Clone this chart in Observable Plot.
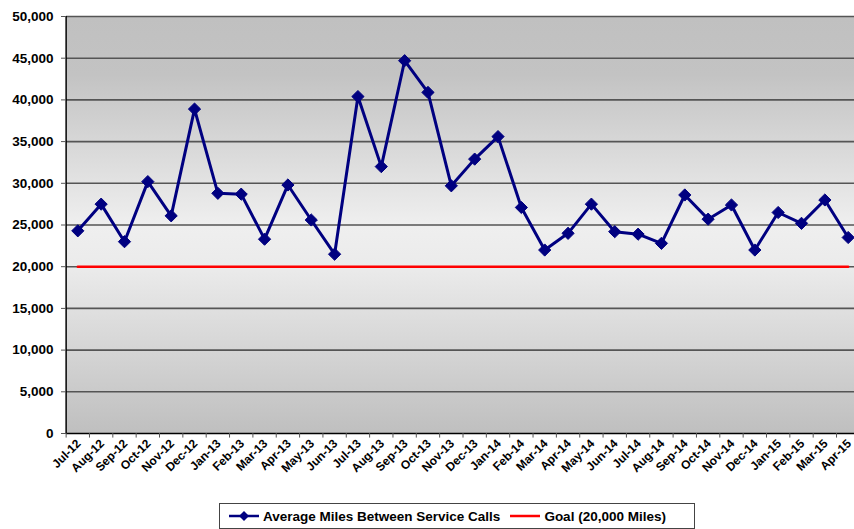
<!DOCTYPE html>
<html>
<head>
<meta charset="utf-8">
<script src="https://cdn.jsdelivr.net/npm/d3@7"></script>
<script src="https://cdn.jsdelivr.net/npm/@observablehq/plot@0.6"></script>
<style>
  html, body { margin: 0; padding: 0; background: #fff; overflow: hidden; }
  #chart { position: relative; width: 854px; height: 529px; font-family: "Liberation Sans", Arial, sans-serif; }
  #legend { position: absolute; left: 219px; top: 503px; width: 476px; height: 26px; border: 1px solid #444; box-sizing: border-box; background: #fff; font-weight: bold; font-size: 13.5px; color: #000; display: flex; align-items: center; }
  .item { display: flex; align-items: center; margin-left: 9px; }
  .item svg { margin-right: 4px; }
</style>
</head>
<body>
<div id="chart"><div id="legend"></div></div>
<script>
const months = ["Jul-12","Aug-12","Sep-12","Oct-12","Nov-12","Dec-12","Jan-13","Feb-13","Mar-13","Apr-13","May-13","Jun-13",
  "Jul-13","Aug-13","Sep-13","Oct-13","Nov-13","Dec-13","Jan-14","Feb-14","Mar-14","Apr-14","May-14","Jun-14",
  "Jul-14","Aug-14","Sep-14","Oct-14","Nov-14","Dec-14","Jan-15","Feb-15","Mar-15","Apr-15"];
const avgMiles = [24300,27500,23000,30200,26100,38900,28800,28700,23300,29800,25600,21500,
  40400,32000,44700,40900,29700,32900,35600,27100,22000,24000,27500,24200,
  23900,22800,28600,25700,27400,22000,26500,25200,28000,23500];
const goalMiles = 20000;
const yTicks = [0,5000,10000,15000,20000,25000,30000,35000,40000,45000,50000];
const seriesNames = ["Average Miles Between Service Calls", "Goal (20,000 Miles)"];

const series = months.map((m, i) => ({month: m, value: avgMiles[i]}));
const goal = months.map(m => ({month: m, value: goalMiles}));
const half = (847.7 - 77.3) / (months.length - 1) / 2;

const plot = Plot.plot({
  width: 854,
  height: 500,
  marginLeft: 66,
  marginRight: 0,
  marginTop: 16,
  marginBottom: 67,
  style: {fontFamily: "'Liberation Sans', Arial, sans-serif", background: "transparent", overflow: "visible"},
  x: {type: "point", domain: months, range: [77.3, 847.7], padding: 0, align: 0.5, round: false},
  y: {domain: [0, 50000]},
  marks: [
    Plot.frame({fill: "url(#bgGrad)", stroke: null}),
    Plot.ruleY(yTicks.filter(d => d > 0), {stroke: "#555", strokeWidth: 1.6}),
    Plot.ruleY([0], {stroke: "#000", strokeWidth: 1.5}),
    Plot.ruleX([months[0]], {dx: -half, stroke: "#000", strokeWidth: 1.5}),
    Plot.ruleX(months, {x: d => d, y1: 0, y2: -550, dx: -half, stroke: "#555", strokeWidth: 1}),
    Plot.axisY({ticks: yTicks, tickFormat: d3.format(","), tickSize: 5, tickPadding: 8, fontSize: 13.5, fontWeight: "bold", fill: "#000", stroke: "#555", label: null}),
    Plot.axisX({tickSize: 0, tickPadding: 8, tickRotate: -45, fontSize: 12, fontWeight: "bold", fill: "#000", dx: 1, label: null}),
    Plot.lineY(goal, {x: "month", y: "value", stroke: "#ff0000", strokeWidth: 2.5}),
    Plot.lineY(series, {x: "month", y: "value", stroke: "#000080", strokeWidth: 3}),
    Plot.dot(series, {x: "month", y: "value", symbol: "diamond2", r: 5.5, fill: "#000080", stroke: "#000080", strokeWidth: 1})
  ]
});

// gradient defs
const ns = "http://www.w3.org/2000/svg";
const defs = document.createElementNS(ns, "defs");
const grad = document.createElementNS(ns, "linearGradient");
grad.setAttribute("id", "bgGrad");
grad.setAttribute("x1", "0"); grad.setAttribute("y1", "0");
grad.setAttribute("x2", "0"); grad.setAttribute("y2", "1");
[[0, "#c0c0c0"], [0.14, "#c3c3c3"], [0.5, "#efefef"], [0.6, "#ebebeb"], [1, "#bfbfbf"]].forEach(([o, c]) => {
  const s = document.createElementNS(ns, "stop");
  s.setAttribute("offset", o); s.setAttribute("stop-color", c);
  grad.appendChild(s);
});
defs.appendChild(grad);
plot.insertBefore(defs, plot.firstChild);

const chart = document.getElementById("chart");
chart.insertBefore(plot, chart.firstChild);

// legend
const legend = document.getElementById("legend");
const colors = ["#000080", "#ff0000"];
seriesNames.forEach((name, i) => {
  const item = document.createElement("div");
  item.className = "item";
  item.style.marginLeft = i === 0 ? "9px" : "10px";
  const sw = document.createElementNS(ns, "svg");
  sw.setAttribute("width", "30"); sw.setAttribute("height", "12");
  const ln = document.createElementNS(ns, "line");
  ln.setAttribute("x1", "0"); ln.setAttribute("x2", "30"); ln.setAttribute("y1", "6"); ln.setAttribute("y2", "6");
  ln.setAttribute("stroke", colors[i]); ln.setAttribute("stroke-width", "2.5");
  sw.appendChild(ln);
  if (i === 0) {
    const p = document.createElementNS(ns, "path");
    p.setAttribute("d", "M15,1L20,6L15,11L10,6Z");
    p.setAttribute("fill", colors[0]);
    sw.appendChild(p);
  }
  const t = document.createElement("span");
  t.textContent = name;
  item.appendChild(sw); item.appendChild(t);
  legend.appendChild(item);
});
</script>
</body>
</html>
